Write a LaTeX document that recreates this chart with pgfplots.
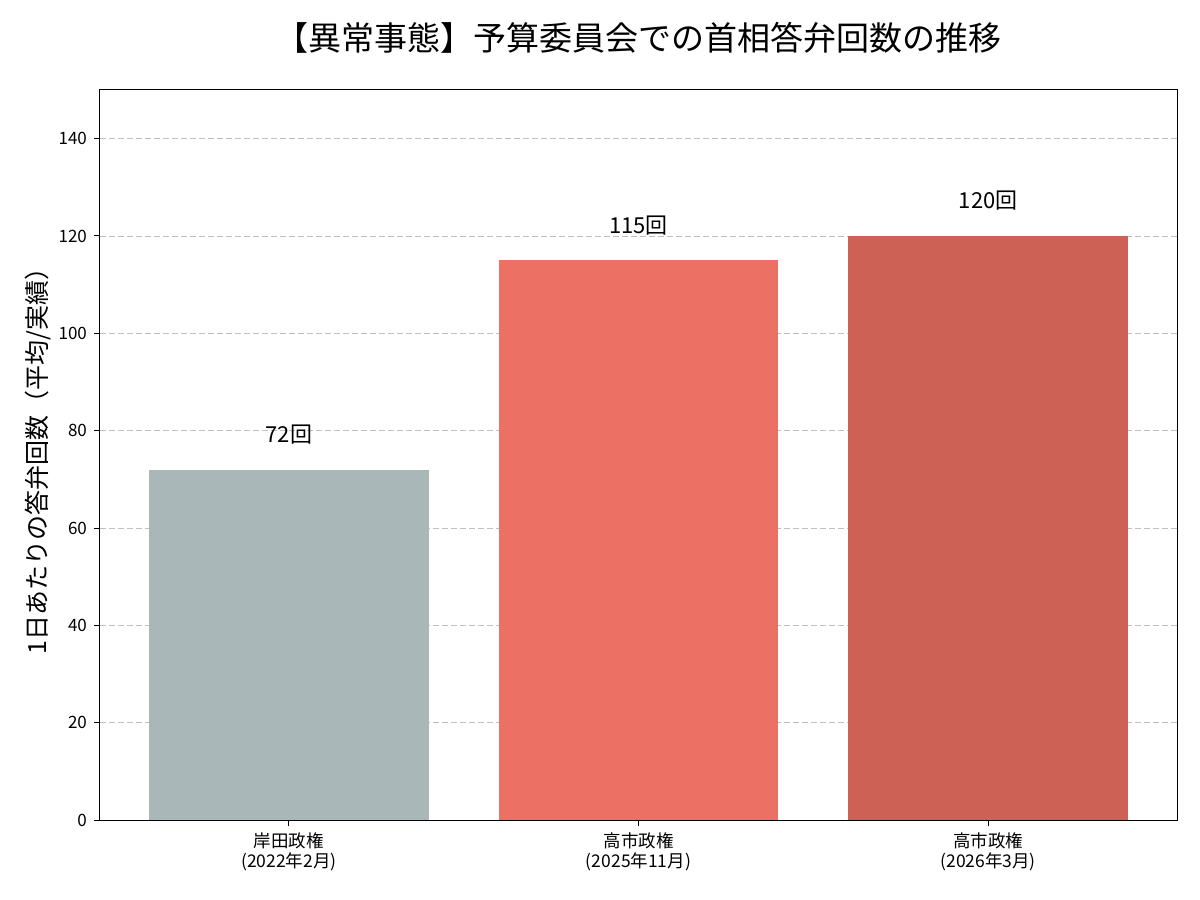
\documentclass[border=0pt]{standalone}
\usepackage{fontspec}
\setmainfont{Noto Sans CJK JP}
\usepackage{pgfplots}
\pgfplotsset{compat=1.18}
\definecolor{cgray}{HTML}{AAB7B8}
\definecolor{cred}{HTML}{EC7063}
\definecolor{cdark}{HTML}{CD6155}
\begin{document}
\begin{tikzpicture}
\path (-50pt,-40pt) rectangle (550pt,410pt);
\begin{axis}[
  at={(0,0)}, anchor=south west,
  scale only axis, width=538.5pt, height=365pt,
  xmin=-0.54, xmax=2.54, ymin=0, ymax=150,
  ytick={0,20,...,140},
  xtick={0,1,2},
  xticklabels={{岸田政権\\(2022年2月)},{高市政権\\(2025年11月)},{高市政権\\(2026年3月)}},
  xticklabel style={align=center, font=\fontsize{8.75}{10}\selectfont},
  yticklabel style={font=\fontsize{8.5}{10}\selectfont},
  /pgf/number format/assume math mode=true,
  tick align=outside, tick pos=left,
  major tick length=3pt,
  tick style={black, line width=0.5pt},
  axis line style={line width=0.5pt},
  ymajorgrids, grid style={dash pattern=on 3pt off 1.5pt, gray!50, line width=0.4pt},
  ylabel={1日あたりの答弁回数（平均/実績）},
  ylabel style={font=\fontsize{12.5}{14}\selectfont, at={(axis description cs:-0.0576,0.5)}, anchor=center},
  ybar, bar width=0.8, bar shift=0pt,
  nodes near coords={\pgfmathprintnumber{\pgfplotspointmeta}回},
  every node near coord/.append style={font=\fontsize{11}{13}\selectfont, anchor=center, yshift=17.5pt, /pgf/number format/assume math mode=true},
  title={【異常事態】予算委員会での首相答弁回数の推移},
  title style={font=\fontsize{16.5}{18}\selectfont, at={(axis description cs:0.5,1)}, anchor=center, yshift=20pt},
]
\addplot[draw=none, fill=cgray] coordinates {(0,72)};
\addplot[draw=none, fill=cred] coordinates {(1,115)};
\addplot[draw=none, fill=cdark] coordinates {(2,120)};
\end{axis}
\end{tikzpicture}
\end{document}
